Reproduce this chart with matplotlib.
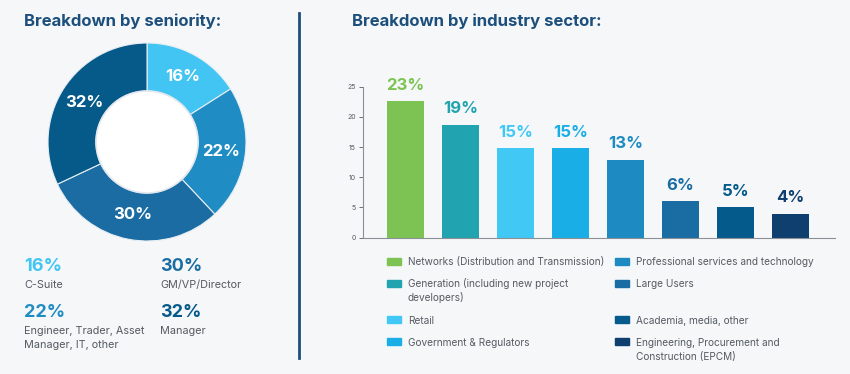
import matplotlib
matplotlib.use("Agg")
import matplotlib.pyplot as plt
from matplotlib.patches import Rectangle, Circle

plt.rcParams["font.family"] = ["Inter", "DejaVu Sans"]

W, H = 850, 374
BG = "#F5F7F9"
NAVY = "#1D4F7C"
GREY = "#555B61"

# seniority (donut)
sen_labels = ["C-Suite", "Engineer, Trader, Asset\nManager, IT, other", "GM/VP/Director", "Manager"]
sen_values = [16, 22, 30, 32]
sen_colors = ["#42C5F2", "#1F8CC4", "#1A6CA3", "#065A8A"]

# industry sector (bars)
sec_labels = [
    "Networks (Distribution and Transmission)",
    "Generation (including new project\ndevelopers)",
    "Retail",
    "Government & Regulators",
    "Professional services and technology",
    "Large Users",
    "Academia, media, other",
    "Engineering, Procurement and\nConstruction (EPCM)",
]
sec_values = [22.6, 18.7, 14.8, 14.8, 12.9, 6.0, 5.0, 4.0]
sec_colors = ["#7DC353", "#21A3B0", "#42C8F4", "#1AAEE6", "#1E8AC2", "#1A6DA3", "#045A8A", "#0F3F6E"]


def fx(px):
    return px / W


def fy(py):
    return 1 - py / H


fig = plt.figure(figsize=(W / 100, H / 100), dpi=100, facecolor=BG)

# titles and divider
fig.text(fx(24), fy(26), "Breakdown by seniority:", fontsize=12, fontweight="bold",
         color=NAVY, va="baseline")
fig.text(fx(352), fy(26), "Breakdown by industry sector:", fontsize=12, fontweight="bold",
         color=NAVY, va="baseline")
fig.add_artist(plt.Line2D([fx(299), fx(299)], [fy(13), fy(358)], color=NAVY, lw=2))

# donut
ax_d = fig.add_axes([fx(48), fy(241), 198 / W, 198 / H])
ax_d.pie(sen_values, colors=sen_colors, startangle=90, counterclock=False,
         wedgeprops=dict(width=0.485, edgecolor="#E8EEF3", linewidth=0.8),
         autopct=lambda p: f"{p:.0f}%", pctdistance=0.75,
         textprops=dict(color="white", fontsize=12, fontweight="bold"))
ax_d.add_patch(Circle((0, 0), 0.515, facecolor="white", edgecolor="#E3E8EE", linewidth=1.2))
ax_d.set_xlim(-1, 1)
ax_d.set_ylim(-1, 1)

# seniority key
key_pos = [(24, 270.7), (24, 317), (160, 270.7), (160, 317)]
for (x, y), lab, val, col in zip(key_pos, sen_labels, sen_values, sen_colors):
    fig.text(fx(x), fy(y), f"{val}%", fontsize=13, fontweight="bold", color=col, va="baseline")
    for i, line in enumerate(lab.split("\n")):
        fig.text(fx(x), fy(y + 17.5 + i * 14), line, fontsize=7.8, color=GREY, va="baseline")

# bar chart
ax_b = fig.add_axes([fx(363), fy(237.7), 472 / W, 151 / H])
ax_b.set_facecolor(BG)
xs = range(len(sec_values))
ax_b.bar(xs, sec_values, width=0.67, color=sec_colors)
for x, v, col in zip(xs, sec_values, sec_colors):
    ax_b.text(x, v + 1.4, f"{round(v)}%", ha="center", va="bottom", fontsize=12,
              fontweight="bold", color=col, clip_on=False)
ax_b.set_xlim(-0.77, 7.81)
ax_b.set_ylim(0, 25)
ax_b.set_yticks(range(0, 26, 5))
ax_b.set_xticks([])
ax_b.tick_params(axis="y", labelsize=5, colors=GREY, length=3, width=0.6, pad=2)
for s in ["top", "right"]:
    ax_b.spines[s].set_visible(False)
for s in ["left", "bottom"]:
    ax_b.spines[s].set_color("#8A9096")
    ax_b.spines[s].set_linewidth(0.8)

# sector legend
rows = [265, 287, 323.7, 345.7]
for i, (lab, col) in enumerate(zip(sec_labels, sec_colors)):
    col_i, row_i = divmod(i, 4)
    sq_x = 387 if col_i == 0 else 615
    tx_x = 408 if col_i == 0 else 636
    y = rows[row_i]
    fig.add_artist(Rectangle((fx(sq_x), fy(y - 0.5)), 14 / W, 7 / H, color=col,
                             transform=fig.transFigure))
    for j, line in enumerate(lab.split("\n")):
        fig.text(fx(tx_x), fy(y + j * 14), line, fontsize=7.25, color=GREY, va="baseline")

fig.savefig("out.png", dpi=100, facecolor=BG)
